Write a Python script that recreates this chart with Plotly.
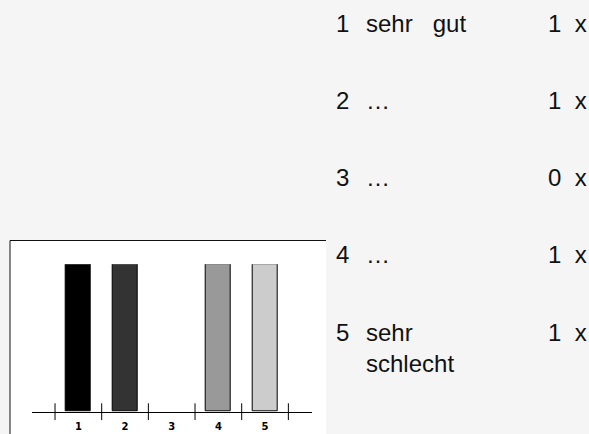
import plotly.graph_objects as go

# ---- data ----
categories = [1, 2, 3, 4, 5]
counts = [1, 1, 0, 1, 1]
bar_colors = ["#000000", "#333333", "#ffffff", "#999999", "#cccccc"]
tick_labels = ["1", "2", "3", "4", "5"]
row_numbers = ["1", "2", "3", "4", "5"]
row_labels = ["sehr\u00a0\u00a0\u00a0gut", "…", "…", "…", "sehr<br>schlecht"]
separators = [0.5, 1.5, 2.5, 3.5, 4.5, 5.5]

W, H = 589, 434

def px_x(p):
    return p / W

def px_y(p):
    return 1 - p / H

fig = go.Figure()

fig.add_trace(go.Bar(
    x=categories, y=counts, width=0.54,
    marker=dict(color=bar_colors,
                line=dict(color="#000000", width=[1 if c > 0 else 0 for c in counts])),
    hoverinfo="skip", showlegend=False,
))

fig.add_trace(go.Scatter(
    x=separators, y=[0] * len(separators), mode="markers",
    marker=dict(symbol="line-ns-open", size=12, color="#000000",
                line=dict(color="#000000", width=1)),
    hoverinfo="skip", showlegend=False, cliponaxis=False,
))

fig.update_layout(
    width=W, height=H,
    margin=dict(l=0, r=0, t=0, b=0),
    paper_bgcolor="#f5f5f5",
    plot_bgcolor="rgba(0,0,0,0)",
    xaxis=dict(domain=[px_x(31.7), px_x(311.7)], range=[0, 6],
               showline=True, linecolor="#000000", linewidth=1,
               showgrid=False, zeroline=False, ticks="",
               tickvals=categories, ticktext=tick_labels,
               tickfont=dict(family="DejaVu Sans", size=10, color="#000000", weight="bold"),
               ticklabelstandoff=5, fixedrange=True),
    yaxis=dict(domain=[22.3 / H, 169.7 / H], range=[0, 1],
               showline=False, showgrid=False, zeroline=False,
               showticklabels=False, ticks="", fixedrange=True),
    bargap=0,
)

# white picture frame behind the chart
fig.add_shape(type="rect", xref="paper", yref="paper",
              x0=px_x(10), x1=px_x(326), y0=-0.1, y1=px_y(240.5),
              fillcolor="#ffffff", line=dict(width=0), layer="below")
fig.add_shape(type="line", xref="paper", yref="paper",
              x0=px_x(10), x1=px_x(326), y0=px_y(240.5), y1=px_y(240.5),
              line=dict(color="#111111", width=1), layer="below")
fig.add_shape(type="line", xref="paper", yref="paper",
              x0=px_x(10), x1=px_x(10), y0=-0.1, y1=px_y(240.5),
              line=dict(color="#111111", width=1), layer="below")

font = dict(family="Liberation Sans, Arial, sans-serif", size=24, color="#111111")
for i, (num, lab, c) in enumerate(zip(row_numbers, row_labels, counts)):
    cy = 23.5 + 77.3 * i
    top = cy - 15
    fig.add_annotation(x=px_x(335.4), y=px_y(top), xref="paper", yref="paper",
                       text=num, showarrow=False, xanchor="left", yanchor="top",
                       font=font, align="left", borderpad=0)
    fig.add_annotation(x=px_x(365.3), y=px_y(top), xref="paper", yref="paper",
                       text=lab, showarrow=False, xanchor="left", yanchor="top",
                       font=font, align="left", borderpad=0)
    fig.add_annotation(x=px_x(546.7), y=px_y(top), xref="paper", yref="paper",
                       text=f"{c}\u00a0\u00a0x", showarrow=False, xanchor="left", yanchor="top",
                       font=font, align="left", borderpad=0)

fig.write_html("out.html", config={"displayModeBar": False},
               post_script="document.body.style.margin='0';document.body.style.background='#f5f5f5';")
